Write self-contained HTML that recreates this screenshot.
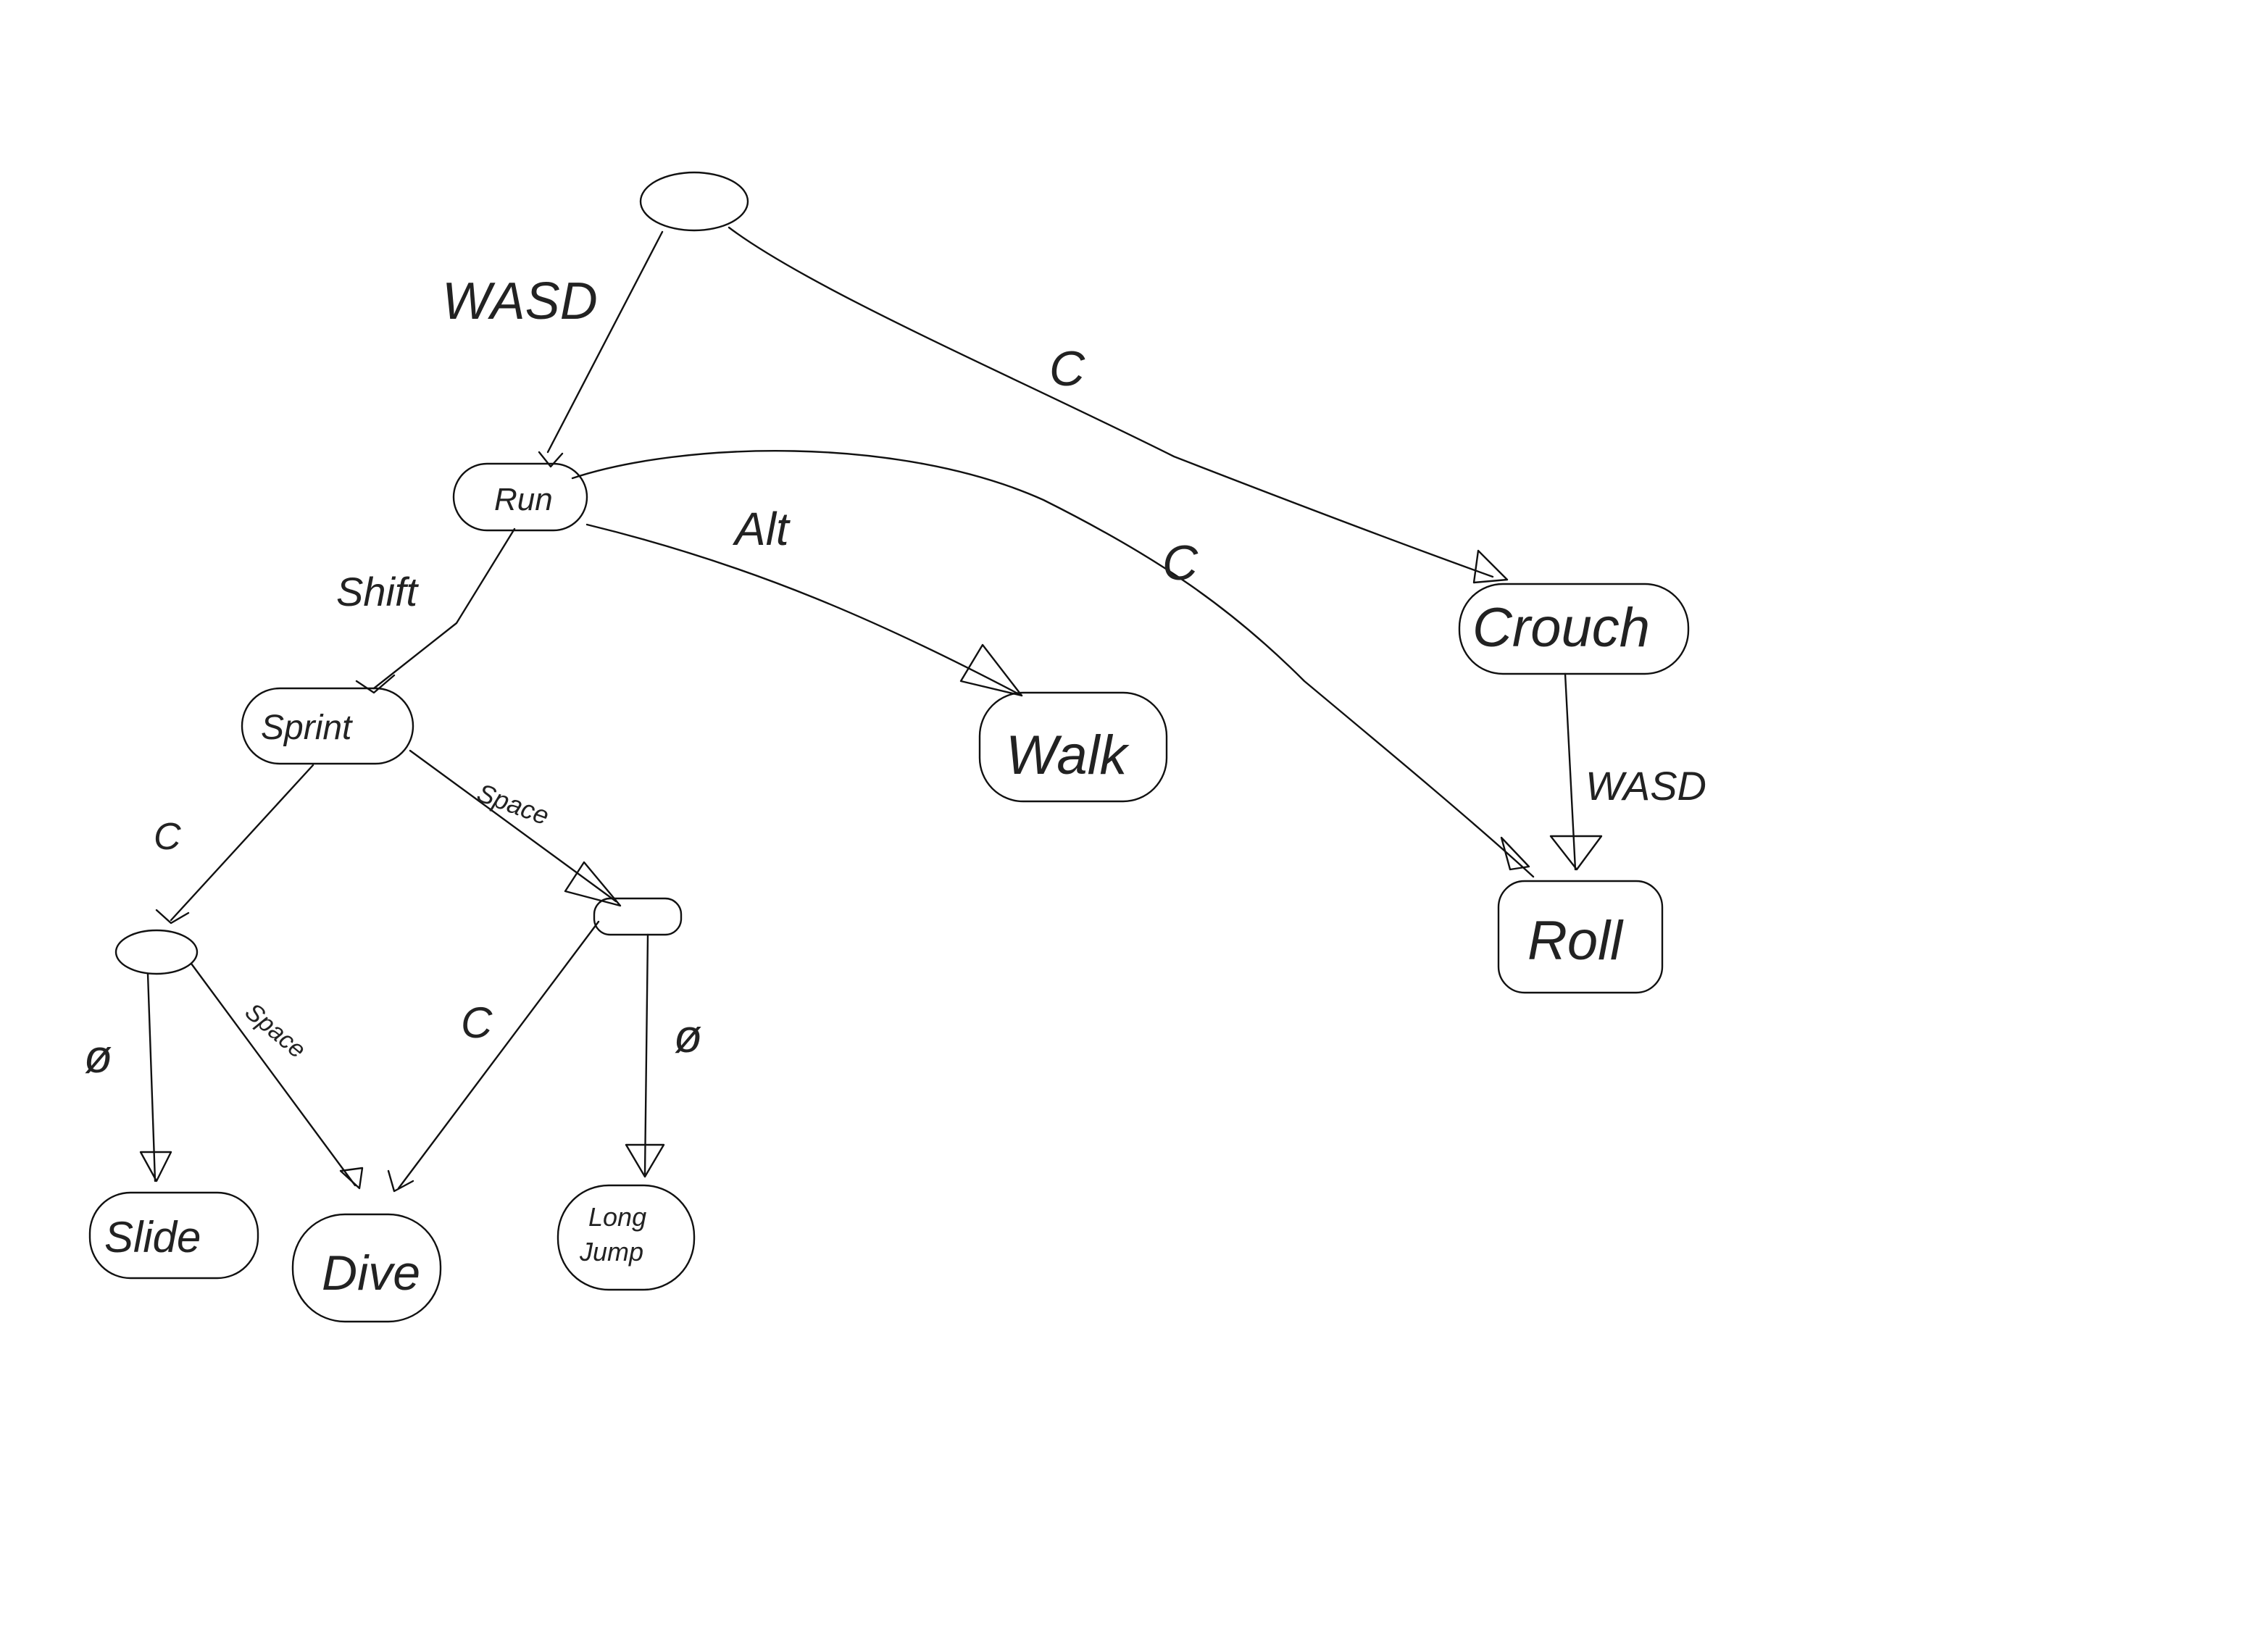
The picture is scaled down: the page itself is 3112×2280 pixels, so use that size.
<!DOCTYPE html>
<html><head><meta charset="utf-8"><style>
html,body{margin:0;padding:0;background:#fff;}
svg{display:block;}
text{font-family:"Liberation Sans",sans-serif;font-style:italic;fill:#222;}
</style></head><body>
<svg width="3112" height="2280" viewBox="0 0 1556 1140" xmlns="http://www.w3.org/2000/svg">
<g fill="none" stroke="#111" stroke-width="1.2" stroke-linejoin="round" stroke-linecap="round">
<ellipse cx="479" cy="139" rx="37" ry="20"/>
<rect x="313" y="320" width="92" height="46" rx="23"/>
<rect x="167" y="475" width="118" height="52" rx="26"/>
<rect x="676" y="478" width="129" height="75" rx="30"/>
<rect x="1007" y="403" width="158" height="62" rx="30"/>
<rect x="1034" y="608" width="113" height="77" rx="18"/>
<ellipse cx="108" cy="657" rx="28" ry="15"/>
<rect x="410" y="620" width="60" height="25" rx="11"/>
<rect x="62" y="823" width="116" height="59" rx="28"/>
<rect x="202" y="838" width="102" height="74" rx="36"/>
<rect x="385" y="818" width="94" height="72" rx="35"/>
<path d="M457 160 L378 312"/>
<path d="M372 312 L380 322 L388 313"/>
<path d="M503 157 C560 200 700 260 810 315 C900 350 980 380 1030 398"/>
<path d="M1020 380 L1040 400 L1017 402 Z"/>
<path d="M395 330 C470 305 620 300 720 345 C800 385 850 420 900 470 C960 520 1020 570 1058 605"/>
<path d="M1036 578 L1055 598 L1042 600 Z"/>
<path d="M405 362 C520 390 610 430 705 480"/>
<path d="M663 470 L678 445 L705 480 Z"/>
<path d="M355 365 L315 430 L258 475"/>
<path d="M246 470 L258 478 L272 466"/>
<path d="M216 528 L118 635"/>
<path d="M108 628 L118 637 L130 630"/>
<path d="M283 518 L425 622"/>
<path d="M390 615 L403 595 L428 625 Z"/>
<path d="M1080 465 L1087 600"/>
<path d="M1070 577 L1105 577 L1088 600 Z"/>
<path d="M102 672 L107 815"/>
<path d="M97 795 L118 795 L108 815 Z"/>
<path d="M132 665 L245 818"/>
<path d="M235 808 L248 820 L250 806 Z"/>
<path d="M413 636 L275 820"/>
<path d="M268 808 L272 822 L285 815"/>
<path d="M447 645 L445 810"/>
<path d="M432 790 L458 790 L445 812 Z"/>
</g>
<g>
<text x="305" y="220" font-size="36">WASD</text>
<text x="724" y="266" font-size="34">C</text>
<text x="802" y="400" font-size="34">C</text>
<text x="507" y="376" font-size="32">Alt</text>
<text x="232" y="418" font-size="28">Shift</text>
<text x="106" y="586" font-size="26">C</text>
<text x="328" y="552" font-size="18" transform="rotate(20 328 552)">Space</text>
<text x="1094" y="552" font-size="28">WASD</text>
<text x="58" y="740" font-size="32">ø</text>
<text x="168" y="700" font-size="17" transform="rotate(40 168 700)">Space</text>
<text x="318" y="716" font-size="30">C</text>
<text x="465" y="726" font-size="32">ø</text>
<text x="341" y="352" font-size="22">Run</text>
<text x="180" y="510" font-size="24">Sprint</text>
<text x="694" y="534" font-size="38">Walk</text>
<text x="1016" y="446" font-size="38">Crouch</text>
<text x="1054" y="662" font-size="38">Roll</text>
<text x="72" y="864" font-size="30">Slide</text>
<text x="222" y="890" font-size="34">Dive</text>
<text x="406" y="846" font-size="18">Long</text>
<text x="400" y="870" font-size="18">Jump</text>
</g>
</svg>
</body></html>
